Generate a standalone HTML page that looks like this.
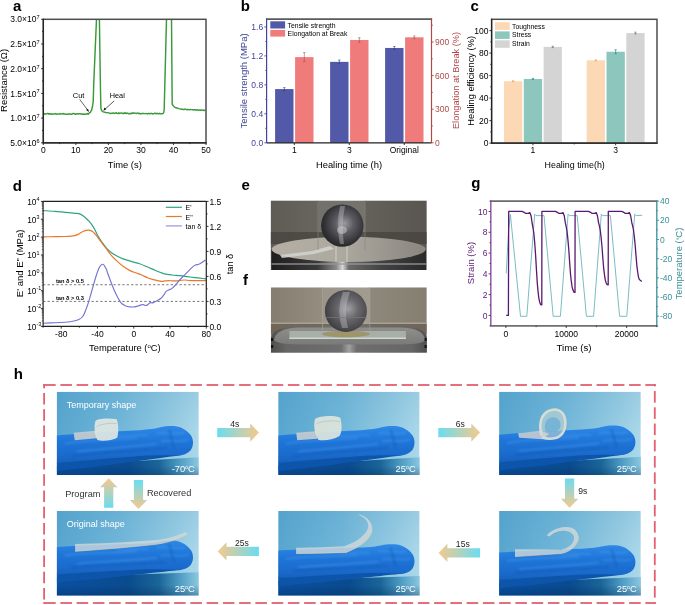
<!DOCTYPE html><html><head><meta charset="utf-8"><style>html,body{margin:0;padding:0;background:#fff;overflow:hidden;}svg{display:block;will-change:transform;}</style></head><body>
<svg width="685" height="605" viewBox="0 0 685 605" font-family="Liberation Sans">
<rect width="685" height="605" fill="#fff"/>
<defs><clipPath id="clipa"><rect x="43.3" y="19.3" width="162.5" height="123.5"/></clipPath><clipPath id="cpe"><rect x="270.6" y="200.4" width="156.2" height="69.6"/></clipPath><linearGradient id="ebg" x1="0" y1="0" x2="1" y2="0"><stop offset="0" stop-color="#5f5c56"/><stop offset="0.3" stop-color="#68655e"/><stop offset="0.31" stop-color="#73716b"/><stop offset="0.6" stop-color="#75736d"/><stop offset="0.61" stop-color="#64615b"/><stop offset="1" stop-color="#595651"/></linearGradient><linearGradient id="eside" x1="0" y1="0" x2="1" y2="0"><stop offset="0" stop-color="#1e1e1e"/><stop offset="0.3" stop-color="#3a3a3a"/><stop offset="0.42" stop-color="#8a8a8a"/><stop offset="0.46" stop-color="#d8d8d8"/><stop offset="0.5" stop-color="#6a6a6a"/><stop offset="0.7" stop-color="#444"/><stop offset="1" stop-color="#2a2a2a"/></linearGradient><linearGradient id="etop" x1="0" y1="0" x2="1" y2="0"><stop offset="0" stop-color="#b4aea4"/><stop offset="0.45" stop-color="#aea99f"/><stop offset="0.75" stop-color="#9a968e"/><stop offset="1" stop-color="#8a8680"/></linearGradient><radialGradient id="ball" cx="0.55" cy="0.45" r="0.62"><stop offset="0" stop-color="#9a9aa0"/><stop offset="0.35" stop-color="#5c5c62"/><stop offset="0.75" stop-color="#333337"/><stop offset="1" stop-color="#202022"/></radialGradient><clipPath id="cpf"><rect x="270.8" y="287.3" width="156.0" height="65.4"/></clipPath><linearGradient id="fbg" x1="0" y1="0" x2="1" y2="0"><stop offset="0" stop-color="#857e70"/><stop offset="0.33" stop-color="#958e80"/><stop offset="0.34" stop-color="#9c968a"/><stop offset="0.63" stop-color="#a29c90"/><stop offset="0.64" stop-color="#8e887b"/><stop offset="1" stop-color="#857f72"/></linearGradient><linearGradient id="ftop" x1="0" y1="0" x2="0" y2="1"><stop offset="0" stop-color="#8e8e8b"/><stop offset="1" stop-color="#7a7a78"/></linearGradient><linearGradient id="fside" x1="0" y1="0" x2="1" y2="0"><stop offset="0" stop-color="#4e4e4e"/><stop offset="0.1" stop-color="#666"/><stop offset="0.45" stop-color="#6e6e6e"/><stop offset="0.5" stop-color="#a0a0a0"/><stop offset="0.55" stop-color="#6e6e6e"/><stop offset="0.9" stop-color="#666"/><stop offset="1" stop-color="#4e4e4e"/></linearGradient><radialGradient id="ballf" cx="0.55" cy="0.45" r="0.62"><stop offset="0" stop-color="#a0a0a4"/><stop offset="0.4" stop-color="#68686c"/><stop offset="0.8" stop-color="#48484c"/><stop offset="1" stop-color="#333336"/></radialGradient><linearGradient id="garr_r" x1="0" y1="0" x2="1" y2="0"><stop offset="0" stop-color="#6adcf0"/><stop offset="1" stop-color="#f6c98c"/></linearGradient><linearGradient id="garr_l" x1="1" y1="0" x2="0" y2="0"><stop offset="0" stop-color="#6adcf0"/><stop offset="1" stop-color="#f6c98c"/></linearGradient><linearGradient id="garr_d" x1="0" y1="0" x2="0" y2="1"><stop offset="0" stop-color="#6adcf0"/><stop offset="1" stop-color="#f6c98c"/></linearGradient><linearGradient id="garr_u" x1="0" y1="1" x2="0" y2="0"><stop offset="0" stop-color="#6adcf0"/><stop offset="1" stop-color="#f6c98c"/></linearGradient><filter id="blur1" x="-10%" y="-50%" width="120%" height="200%"><feGaussianBlur stdDeviation="0.9"/></filter><linearGradient id="hbg" x1="0" y1="0" x2="1" y2="0"><stop offset="0" stop-color="#58a6cf"/><stop offset="0.45" stop-color="#72b7d9"/><stop offset="0.8" stop-color="#95cbe2"/><stop offset="1" stop-color="#abd8ea"/></linearGradient><linearGradient id="hbgv" x1="0" y1="0" x2="0" y2="1"><stop offset="0" stop-color="#3f8ebc" stop-opacity="0.15"/><stop offset="0.5" stop-color="#3f8ebc" stop-opacity="0"/><stop offset="1" stop-color="#3f8ebc" stop-opacity="0"/></linearGradient><linearGradient id="hlow" x1="0" y1="0" x2="1" y2="0"><stop offset="0" stop-color="#0a50a0"/><stop offset="0.5" stop-color="#0a4b8e"/><stop offset="0.72" stop-color="#1a6598"/><stop offset="0.86" stop-color="#4c9ac2"/><stop offset="1" stop-color="#8cc8e0"/></linearGradient><linearGradient id="hlowv" x1="0" y1="0" x2="0" y2="1"><stop offset="0" stop-color="#02285a" stop-opacity="0"/><stop offset="0.6" stop-color="#02285a" stop-opacity="0"/><stop offset="1" stop-color="#02285a" stop-opacity="0.4"/></linearGradient><linearGradient id="hfing" x1="0" y1="0" x2="0" y2="1"><stop offset="0" stop-color="#2f88e6"/><stop offset="0.4" stop-color="#1f76d8"/><stop offset="0.8" stop-color="#1a6acc"/><stop offset="1" stop-color="#1660bc"/></linearGradient><clipPath id="cph1"><rect x="56.70" y="391.70" width="142.10" height="83.20"/></clipPath><clipPath id="cph2"><rect x="278.20" y="391.70" width="141.40" height="83.20"/></clipPath><clipPath id="cph3"><rect x="499.10" y="391.70" width="141.70" height="83.20"/></clipPath><clipPath id="cph4"><rect x="56.70" y="511.00" width="142.10" height="84.40"/></clipPath><clipPath id="cph5"><rect x="278.20" y="511.00" width="141.40" height="84.40"/></clipPath><clipPath id="cph6"><rect x="499.10" y="511.00" width="141.70" height="84.40"/></clipPath></defs>
<text x="13.00" y="11.00" font-size="15" text-anchor="start" fill="#000" font-weight="bold">a</text>
<g clip-path="url(#clipa)">
<path d="M43.30 113.66 L44.10 113.94 L44.90 113.78 L45.70 113.99 L46.50 114.01 L47.30 113.51 L48.10 113.46 L48.90 114.20 L49.70 113.68 L50.50 113.66 L51.30 114.35 L52.10 113.87 L52.90 114.20 L53.70 113.88 L54.50 114.03 L55.30 113.59 L56.10 114.02 L56.90 114.23 L57.70 113.92 L58.50 114.12 L59.30 114.05 L60.10 113.51 L60.90 114.13 L61.70 113.98 L62.50 113.72 L63.30 113.48 L64.10 114.23 L64.90 113.88 L65.70 114.10 L66.50 114.24 L67.30 114.09 L68.10 114.28 L68.90 113.81 L69.70 114.17 L70.50 113.85 L71.30 114.29 L72.10 114.24 L72.90 113.54 L73.70 113.57 L74.50 113.65 L75.30 114.32 L76.10 113.84 L76.90 114.01 L77.70 113.72 L78.50 113.91 L79.30 113.80 L80.10 113.77 L80.90 113.98 L81.70 113.98 L82.50 114.26 L83.30 114.06 L84.10 114.29 L84.90 114.22 L85.70 114.34 L86.50 114.05 L87.30 113.60 L88.10 114.22 L89.00 113.20 L90.30 112.30 L91.50 110.20 L92.50 106.50 L93.20 101.80 L93.70 85.00 L96.50 19.00 L99.40 19.00 L100.40 85.00 L100.70 100.00 L100.90 108.50 L101.80 110.80 L103.20 111.90 L106.00 112.50 L109.10 112.90 L110.00 113.52 L110.80 113.47 L111.60 113.18 L112.40 113.32 L113.20 112.88 L114.00 113.45 L114.80 113.22 L115.60 112.97 L116.40 112.78 L117.20 113.50 L118.00 113.64 L118.80 112.84 L119.60 113.49 L120.40 113.14 L121.20 112.92 L122.00 113.06 L122.80 113.50 L123.60 113.60 L124.40 112.86 L125.20 113.39 L126.00 112.88 L126.80 113.50 L127.60 113.16 L128.40 113.66 L129.20 113.76 L130.00 113.34 L130.80 113.80 L131.60 113.19 L132.40 112.99 L133.20 113.47 L134.00 112.97 L134.80 113.13 L135.60 113.32 L136.40 113.52 L137.20 113.12 L138.00 113.02 L138.80 113.78 L139.60 113.29 L140.40 113.88 L141.20 113.83 L142.00 113.37 L142.80 113.46 L143.60 113.52 L144.40 113.64 L145.20 113.61 L146.00 113.59 L146.80 113.65 L147.60 113.95 L148.40 113.57 L149.20 113.51 L150.00 113.78 L150.80 113.35 L151.60 113.42 L152.40 114.04 L153.20 113.64 L154.00 113.67 L154.80 113.20 L155.60 113.57 L156.40 113.73 L157.20 113.23 L158.00 113.78 L158.80 113.80 L159.60 113.30 L160.40 113.82 L161.20 113.68 L162.00 113.89 L163.20 113.40 L163.90 112.00 L164.20 109.50 L166.50 19.00 L171.50 19.00 L172.20 104.30 L173.10 105.50 L174.30 106.90 L176.00 107.80 L179.00 108.60 L181.60 109.20 L182.50 109.18 L183.30 109.51 L184.10 109.57 L184.90 109.04 L185.70 109.11 L186.50 109.64 L187.30 109.91 L188.10 109.38 L188.90 109.59 L189.70 109.73 L190.50 109.56 L191.30 109.63 L192.10 109.63 L192.90 109.72 L193.70 109.94 L194.50 109.74 L195.30 109.84 L196.10 110.20 L196.90 109.64 L197.70 110.12 L198.50 110.29 L199.30 109.99 L200.10 109.96 L200.90 110.46 L201.70 110.05 L202.50 110.05 L203.30 110.29 L204.10 110.54 L204.90 110.10 L205.60 110.50" fill="none" stroke="#3a9a3a" stroke-width="1.45" stroke-linejoin="round"/>
</g>
<line x1="79.70" y1="99.30" x2="88.20" y2="110.80" stroke="#111" stroke-width="0.65"/>
<path d="M89.0 111.9 L86.2 110.1 L88.0 108.8 Z" fill="#111"/>
<line x1="114.20" y1="100.90" x2="104.30" y2="109.80" stroke="#111" stroke-width="0.7"/>
<path d="M103.3 110.7 L104.6 107.6 L106.2 109.3 Z" fill="#111"/>
<text x="78.60" y="97.90" font-size="7.5" text-anchor="middle" fill="#000">Cut</text>
<text x="117.30" y="98.40" font-size="7.3" text-anchor="middle" fill="#000">Heal</text>
<rect x="43.3" y="19.3" width="162.7" height="123.50000000000001" fill="none" stroke="#4e4e4e" stroke-width="1.5"/>
<line x1="43.30" y1="18.80" x2="43.30" y2="143.30" stroke="#222" stroke-width="1.2"/>
<line x1="42.80" y1="142.80" x2="206.50" y2="142.80" stroke="#222" stroke-width="1.2"/>
<line x1="43.30" y1="142.80" x2="43.30" y2="145.00" stroke="#222" stroke-width="0.9"/>
<text x="43.30" y="153.30" font-size="8.5" text-anchor="middle" fill="#000">0</text>
<line x1="59.57" y1="142.80" x2="59.57" y2="144.10" stroke="#222" stroke-width="0.9"/>
<line x1="75.84" y1="142.80" x2="75.84" y2="145.00" stroke="#222" stroke-width="0.9"/>
<text x="75.84" y="153.30" font-size="8.5" text-anchor="middle" fill="#000">10</text>
<line x1="92.11" y1="142.80" x2="92.11" y2="144.10" stroke="#222" stroke-width="0.9"/>
<line x1="108.38" y1="142.80" x2="108.38" y2="145.00" stroke="#222" stroke-width="0.9"/>
<text x="108.38" y="153.30" font-size="8.5" text-anchor="middle" fill="#000">20</text>
<line x1="124.65" y1="142.80" x2="124.65" y2="144.10" stroke="#222" stroke-width="0.9"/>
<line x1="140.92" y1="142.80" x2="140.92" y2="145.00" stroke="#222" stroke-width="0.9"/>
<text x="140.92" y="153.30" font-size="8.5" text-anchor="middle" fill="#000">30</text>
<line x1="157.19" y1="142.80" x2="157.19" y2="144.10" stroke="#222" stroke-width="0.9"/>
<line x1="173.46" y1="142.80" x2="173.46" y2="145.00" stroke="#222" stroke-width="0.9"/>
<text x="173.46" y="153.30" font-size="8.5" text-anchor="middle" fill="#000">40</text>
<line x1="189.73" y1="142.80" x2="189.73" y2="144.10" stroke="#222" stroke-width="0.9"/>
<line x1="206.00" y1="142.80" x2="206.00" y2="145.00" stroke="#222" stroke-width="0.9"/>
<text x="206.00" y="153.30" font-size="8.5" text-anchor="middle" fill="#000">50</text>
<line x1="43.30" y1="142.80" x2="41.10" y2="142.80" stroke="#222" stroke-width="0.9"/>
<text x="39.6" y="145.90" font-size="8.5" text-anchor="end">5.0×10<tspan font-size="5.6" dy="-3.2">6</tspan></text>
<line x1="43.30" y1="130.45" x2="42.00" y2="130.45" stroke="#222" stroke-width="0.9"/>
<line x1="43.30" y1="118.10" x2="41.10" y2="118.10" stroke="#222" stroke-width="0.9"/>
<text x="39.6" y="121.20" font-size="8.5" text-anchor="end">1.0×10<tspan font-size="5.6" dy="-3.2">7</tspan></text>
<line x1="43.30" y1="105.75" x2="42.00" y2="105.75" stroke="#222" stroke-width="0.9"/>
<line x1="43.30" y1="93.40" x2="41.10" y2="93.40" stroke="#222" stroke-width="0.9"/>
<text x="39.6" y="96.50" font-size="8.5" text-anchor="end">1.5×10<tspan font-size="5.6" dy="-3.2">7</tspan></text>
<line x1="43.30" y1="81.05" x2="42.00" y2="81.05" stroke="#222" stroke-width="0.9"/>
<line x1="43.30" y1="68.70" x2="41.10" y2="68.70" stroke="#222" stroke-width="0.9"/>
<text x="39.6" y="71.80" font-size="8.5" text-anchor="end">2.0×10<tspan font-size="5.6" dy="-3.2">7</tspan></text>
<line x1="43.30" y1="56.35" x2="42.00" y2="56.35" stroke="#222" stroke-width="0.9"/>
<line x1="43.30" y1="44.00" x2="41.10" y2="44.00" stroke="#222" stroke-width="0.9"/>
<text x="39.6" y="47.10" font-size="8.5" text-anchor="end">2.5×10<tspan font-size="5.6" dy="-3.2">7</tspan></text>
<line x1="43.30" y1="31.65" x2="42.00" y2="31.65" stroke="#222" stroke-width="0.9"/>
<line x1="43.30" y1="19.30" x2="41.10" y2="19.30" stroke="#222" stroke-width="0.9"/>
<text x="39.6" y="22.40" font-size="8.5" text-anchor="end">3.0×10<tspan font-size="5.6" dy="-3.2">7</tspan></text>
<text x="7.10" y="80.40" font-size="9.5" text-anchor="middle" fill="#000" transform="rotate(-90 7.1 80.4)">Resistance (Ω)</text>
<text x="124.80" y="167.70" font-size="9.4" text-anchor="middle" fill="#000">Time (s)</text>
<text x="240.80" y="11.00" font-size="15" text-anchor="start" fill="#000" font-weight="bold">b</text>
<rect x="275.10" y="89.08" width="18.40" height="53.72" fill="#5259a8"/>
<rect x="295.10" y="57.12" width="18.40" height="85.68" fill="#f07b7b"/>
<line x1="284.30" y1="87.63" x2="284.30" y2="90.53" stroke="#333a80" stroke-width="0.6"/>
<line x1="283.10" y1="87.63" x2="285.50" y2="87.63" stroke="#333a80" stroke-width="0.6"/>
<line x1="283.10" y1="90.53" x2="285.50" y2="90.53" stroke="#333a80" stroke-width="0.6"/>
<line x1="304.30" y1="52.64" x2="304.30" y2="61.60" stroke="#a05050" stroke-width="0.6"/>
<line x1="303.10" y1="52.64" x2="305.50" y2="52.64" stroke="#a05050" stroke-width="0.6"/>
<line x1="303.10" y1="61.60" x2="305.50" y2="61.60" stroke="#a05050" stroke-width="0.6"/>
<rect x="330.10" y="61.86" width="18.40" height="80.94" fill="#5259a8"/>
<rect x="350.10" y="39.98" width="18.40" height="102.82" fill="#f07b7b"/>
<line x1="339.30" y1="60.05" x2="339.30" y2="63.67" stroke="#333a80" stroke-width="0.6"/>
<line x1="338.10" y1="60.05" x2="340.50" y2="60.05" stroke="#333a80" stroke-width="0.6"/>
<line x1="338.10" y1="63.67" x2="340.50" y2="63.67" stroke="#333a80" stroke-width="0.6"/>
<line x1="359.30" y1="37.74" x2="359.30" y2="42.22" stroke="#a05050" stroke-width="0.6"/>
<line x1="358.10" y1="37.74" x2="360.50" y2="37.74" stroke="#a05050" stroke-width="0.6"/>
<line x1="358.10" y1="42.22" x2="360.50" y2="42.22" stroke="#a05050" stroke-width="0.6"/>
<rect x="385.10" y="47.96" width="18.40" height="94.84" fill="#5259a8"/>
<rect x="405.10" y="37.30" width="18.40" height="105.50" fill="#f07b7b"/>
<line x1="394.30" y1="46.51" x2="394.30" y2="49.40" stroke="#333a80" stroke-width="0.6"/>
<line x1="393.10" y1="46.51" x2="395.50" y2="46.51" stroke="#333a80" stroke-width="0.6"/>
<line x1="393.10" y1="49.40" x2="395.50" y2="49.40" stroke="#333a80" stroke-width="0.6"/>
<line x1="414.30" y1="35.95" x2="414.30" y2="38.64" stroke="#a05050" stroke-width="0.6"/>
<line x1="413.10" y1="35.95" x2="415.50" y2="35.95" stroke="#a05050" stroke-width="0.6"/>
<line x1="413.10" y1="38.64" x2="415.50" y2="38.64" stroke="#a05050" stroke-width="0.6"/>
<rect x="270.30" y="21.30" width="14.80" height="7.20" fill="#5259a8"/>
<rect x="270.30" y="29.90" width="14.80" height="6.70" fill="#f07b7b"/>
<text x="287.60" y="27.60" font-size="6.85" text-anchor="start" fill="#000">Tensile strength</text>
<text x="287.60" y="35.90" font-size="6.85" text-anchor="start" fill="#000">Elongation at Break</text>
<line x1="266.00" y1="19.10" x2="432.10" y2="19.10" stroke="#5a5a5a" stroke-width="1.6"/>
<line x1="266.60" y1="18.60" x2="266.60" y2="142.80" stroke="#41459a" stroke-width="1.2"/>
<line x1="431.50" y1="18.60" x2="431.50" y2="142.80" stroke="#b04848" stroke-width="1.2"/>
<line x1="266.60" y1="142.80" x2="431.50" y2="142.80" stroke="#222" stroke-width="1.2"/>
<line x1="266.60" y1="142.80" x2="264.40" y2="142.80" stroke="#41459a" stroke-width="0.9"/>
<text x="263.20" y="145.90" font-size="8.5" text-anchor="end" fill="#41459a">0.0</text>
<line x1="266.60" y1="128.32" x2="265.30" y2="128.32" stroke="#41459a" stroke-width="0.9"/>
<line x1="266.60" y1="113.84" x2="264.40" y2="113.84" stroke="#41459a" stroke-width="0.9"/>
<text x="263.20" y="116.94" font-size="8.5" text-anchor="end" fill="#41459a">0.4</text>
<line x1="266.60" y1="99.36" x2="265.30" y2="99.36" stroke="#41459a" stroke-width="0.9"/>
<line x1="266.60" y1="84.88" x2="264.40" y2="84.88" stroke="#41459a" stroke-width="0.9"/>
<text x="263.20" y="87.98" font-size="8.5" text-anchor="end" fill="#41459a">0.8</text>
<line x1="266.60" y1="70.40" x2="265.30" y2="70.40" stroke="#41459a" stroke-width="0.9"/>
<line x1="266.60" y1="55.92" x2="264.40" y2="55.92" stroke="#41459a" stroke-width="0.9"/>
<text x="263.20" y="59.02" font-size="8.5" text-anchor="end" fill="#41459a">1.2</text>
<line x1="266.60" y1="41.44" x2="265.30" y2="41.44" stroke="#41459a" stroke-width="0.9"/>
<line x1="266.60" y1="26.96" x2="264.40" y2="26.96" stroke="#41459a" stroke-width="0.9"/>
<text x="263.20" y="30.06" font-size="8.5" text-anchor="end" fill="#41459a">1.6</text>
<line x1="431.50" y1="142.80" x2="433.70" y2="142.80" stroke="#b04848" stroke-width="0.9"/>
<text x="435.00" y="145.90" font-size="8.5" text-anchor="start" fill="#b04848">0</text>
<line x1="431.50" y1="126.00" x2="432.80" y2="126.00" stroke="#b04848" stroke-width="0.9"/>
<line x1="431.50" y1="109.20" x2="433.70" y2="109.20" stroke="#b04848" stroke-width="0.9"/>
<text x="435.00" y="112.30" font-size="8.5" text-anchor="start" fill="#b04848">300</text>
<line x1="431.50" y1="92.40" x2="432.80" y2="92.40" stroke="#b04848" stroke-width="0.9"/>
<line x1="431.50" y1="75.60" x2="433.70" y2="75.60" stroke="#b04848" stroke-width="0.9"/>
<text x="435.00" y="78.70" font-size="8.5" text-anchor="start" fill="#b04848">600</text>
<line x1="431.50" y1="58.80" x2="432.80" y2="58.80" stroke="#b04848" stroke-width="0.9"/>
<line x1="431.50" y1="42.00" x2="433.70" y2="42.00" stroke="#b04848" stroke-width="0.9"/>
<text x="435.00" y="45.10" font-size="8.5" text-anchor="start" fill="#b04848">900</text>
<line x1="431.50" y1="25.20" x2="432.80" y2="25.20" stroke="#b04848" stroke-width="0.9"/>
<line x1="294.30" y1="142.80" x2="294.30" y2="145.00" stroke="#222" stroke-width="0.9"/>
<text x="294.30" y="153.30" font-size="8.5" text-anchor="middle" fill="#000">1</text>
<line x1="349.30" y1="142.80" x2="349.30" y2="145.00" stroke="#222" stroke-width="0.9"/>
<text x="349.30" y="153.30" font-size="8.5" text-anchor="middle" fill="#000">3</text>
<line x1="404.30" y1="142.80" x2="404.30" y2="145.00" stroke="#222" stroke-width="0.9"/>
<text x="404.30" y="153.30" font-size="8.5" text-anchor="middle" fill="#000">Original</text>
<text x="246.60" y="80.90" font-size="9.5" text-anchor="middle" fill="#41459a" transform="rotate(-90 246.6 80.9)">Tensile strength (MPa)</text>
<text x="458.60" y="80.50" font-size="9.2" text-anchor="middle" fill="#b04848" transform="rotate(-90 458.6 80.5)">Elongation at Break (%)</text>
<text x="349.00" y="167.70" font-size="9.4" text-anchor="middle" fill="#000">Healing time (h)</text>
<text x="470.60" y="11.00" font-size="15" text-anchor="start" fill="#000" font-weight="bold">c</text>
<rect x="504.00" y="81.22" width="18.30" height="61.88" fill="#fdd8b5"/>
<line x1="513.15" y1="80.77" x2="513.15" y2="81.67" stroke="#f0a060" stroke-width="0.7"/>
<line x1="512.05" y1="80.77" x2="514.25" y2="80.77" stroke="#f0a060" stroke-width="0.7"/>
<line x1="512.05" y1="81.67" x2="514.25" y2="81.67" stroke="#f0a060" stroke-width="0.7"/>
<rect x="523.80" y="78.97" width="18.30" height="64.12" fill="#8cc6bc"/>
<line x1="532.95" y1="78.41" x2="532.95" y2="79.54" stroke="#1f8f8f" stroke-width="0.7"/>
<line x1="531.85" y1="78.41" x2="534.05" y2="78.41" stroke="#1f8f8f" stroke-width="0.7"/>
<line x1="531.85" y1="79.54" x2="534.05" y2="79.54" stroke="#1f8f8f" stroke-width="0.7"/>
<rect x="543.60" y="46.91" width="18.30" height="96.19" fill="#d3d4d3"/>
<line x1="552.75" y1="46.24" x2="552.75" y2="47.59" stroke="#777" stroke-width="0.7"/>
<line x1="551.65" y1="46.24" x2="553.85" y2="46.24" stroke="#777" stroke-width="0.7"/>
<line x1="551.65" y1="47.59" x2="553.85" y2="47.59" stroke="#777" stroke-width="0.7"/>
<rect x="586.70" y="60.30" width="18.30" height="82.80" fill="#fdd8b5"/>
<line x1="595.85" y1="59.85" x2="595.85" y2="60.75" stroke="#f0a060" stroke-width="0.7"/>
<line x1="594.75" y1="59.85" x2="596.95" y2="59.85" stroke="#f0a060" stroke-width="0.7"/>
<line x1="594.75" y1="60.75" x2="596.95" y2="60.75" stroke="#f0a060" stroke-width="0.7"/>
<rect x="606.50" y="51.75" width="18.30" height="91.35" fill="#8cc6bc"/>
<line x1="615.65" y1="49.72" x2="615.65" y2="53.77" stroke="#1f8f8f" stroke-width="0.7"/>
<line x1="614.55" y1="49.72" x2="616.75" y2="49.72" stroke="#1f8f8f" stroke-width="0.7"/>
<line x1="614.55" y1="53.77" x2="616.75" y2="53.77" stroke="#1f8f8f" stroke-width="0.7"/>
<rect x="626.30" y="33.07" width="18.30" height="110.03" fill="#d3d4d3"/>
<line x1="635.45" y1="32.17" x2="635.45" y2="33.97" stroke="#777" stroke-width="0.7"/>
<line x1="634.35" y1="32.17" x2="636.55" y2="32.17" stroke="#777" stroke-width="0.7"/>
<line x1="634.35" y1="33.97" x2="636.55" y2="33.97" stroke="#777" stroke-width="0.7"/>
<rect x="495.00" y="22.20" width="14.70" height="7.70" fill="#fdd8b5"/>
<rect x="495.00" y="31.40" width="14.70" height="7.50" fill="#8cc6bc"/>
<rect x="495.00" y="40.30" width="14.70" height="7.50" fill="#d3d4d3"/>
<text x="512.00" y="28.50" font-size="6.8" text-anchor="start" fill="#000">Toughness</text>
<text x="512.00" y="37.40" font-size="6.8" text-anchor="start" fill="#000">Stress</text>
<text x="512.00" y="46.30" font-size="6.8" text-anchor="start" fill="#000">Strain</text>
<rect x="491.6" y="19.3" width="165.39999999999998" height="123.8" fill="none" stroke="#4e4e4e" stroke-width="1.5"/>
<line x1="491.60" y1="18.80" x2="491.60" y2="143.60" stroke="#222" stroke-width="1.2"/>
<line x1="491.10" y1="143.10" x2="657.50" y2="143.10" stroke="#222" stroke-width="1.2"/>
<line x1="491.60" y1="143.10" x2="489.40" y2="143.10" stroke="#222" stroke-width="0.9"/>
<text x="488.40" y="146.20" font-size="8.5" text-anchor="end" fill="#000">0</text>
<line x1="491.60" y1="131.85" x2="490.30" y2="131.85" stroke="#222" stroke-width="0.9"/>
<line x1="491.60" y1="120.60" x2="489.40" y2="120.60" stroke="#222" stroke-width="0.9"/>
<text x="488.40" y="123.70" font-size="8.5" text-anchor="end" fill="#000">20</text>
<line x1="491.60" y1="109.35" x2="490.30" y2="109.35" stroke="#222" stroke-width="0.9"/>
<line x1="491.60" y1="98.10" x2="489.40" y2="98.10" stroke="#222" stroke-width="0.9"/>
<text x="488.40" y="101.20" font-size="8.5" text-anchor="end" fill="#000">40</text>
<line x1="491.60" y1="86.85" x2="490.30" y2="86.85" stroke="#222" stroke-width="0.9"/>
<line x1="491.60" y1="75.60" x2="489.40" y2="75.60" stroke="#222" stroke-width="0.9"/>
<text x="488.40" y="78.70" font-size="8.5" text-anchor="end" fill="#000">60</text>
<line x1="491.60" y1="64.35" x2="490.30" y2="64.35" stroke="#222" stroke-width="0.9"/>
<line x1="491.60" y1="53.10" x2="489.40" y2="53.10" stroke="#222" stroke-width="0.9"/>
<text x="488.40" y="56.20" font-size="8.5" text-anchor="end" fill="#000">80</text>
<line x1="491.60" y1="41.85" x2="490.30" y2="41.85" stroke="#222" stroke-width="0.9"/>
<line x1="491.60" y1="30.60" x2="489.40" y2="30.60" stroke="#222" stroke-width="0.9"/>
<text x="488.40" y="33.70" font-size="8.5" text-anchor="end" fill="#000">100</text>
<line x1="532.95" y1="143.10" x2="532.95" y2="145.30" stroke="#222" stroke-width="0.9"/>
<text x="532.95" y="153.30" font-size="8.5" text-anchor="middle" fill="#000">1</text>
<line x1="574.30" y1="143.10" x2="574.30" y2="144.40" stroke="#222" stroke-width="0.9"/>
<line x1="615.65" y1="143.10" x2="615.65" y2="145.30" stroke="#222" stroke-width="0.9"/>
<text x="615.65" y="153.30" font-size="8.5" text-anchor="middle" fill="#000">3</text>
<text x="473.80" y="80.80" font-size="9.3" text-anchor="middle" fill="#000" transform="rotate(-90 473.8 80.8)">Healing efficiency (%)</text>
<text x="574.70" y="167.70" font-size="8.9" text-anchor="middle" fill="#000">Healing time(h)</text>
<text x="12.80" y="190.60" font-size="15" text-anchor="start" fill="#000" font-weight="bold">d</text>
<line x1="43.10" y1="284.73" x2="206.30" y2="284.73" stroke="#555" stroke-width="0.8" stroke-dasharray="2.3 2.1"/>
<line x1="43.10" y1="301.40" x2="206.30" y2="301.40" stroke="#555" stroke-width="0.8" stroke-dasharray="2.3 2.1"/>
<text x="55.90" y="283.30" font-size="5.7" text-anchor="start" fill="#000" font-weight="bold">tan δ &gt; 0.5</text>
<text x="55.90" y="300.30" font-size="5.7" text-anchor="start" fill="#000" font-weight="bold">tan δ &gt; 0.3</text>
<path d="M43.30 210.60 C45.25 210.72 51.38 211.02 55.00 211.30 C58.62 211.58 61.58 211.97 65.00 212.30 C68.42 212.63 73.10 213.05 75.50 213.30 C77.90 213.55 78.27 213.47 79.40 213.80 C80.53 214.13 81.20 214.57 82.30 215.30 C83.40 216.03 84.88 217.22 86.00 218.20 C87.12 219.18 87.92 219.97 89.00 221.20 C90.08 222.43 91.42 223.97 92.50 225.60 C93.58 227.23 94.53 229.17 95.50 231.00 C96.47 232.83 97.15 234.63 98.30 236.60 C99.45 238.57 101.03 240.88 102.40 242.80 C103.77 244.72 104.98 246.45 106.50 248.10 C108.02 249.75 109.70 251.35 111.50 252.70 C113.30 254.05 115.37 255.17 117.30 256.20 C119.23 257.23 120.77 258.03 123.10 258.90 C125.43 259.77 128.55 260.58 131.30 261.40 C134.05 262.22 136.98 262.90 139.60 263.80 C142.22 264.70 144.75 265.87 147.00 266.80 C149.25 267.73 151.27 268.62 153.10 269.40 C154.93 270.18 156.10 270.77 158.00 271.50 C159.90 272.23 162.17 273.22 164.50 273.80 C166.83 274.38 169.47 274.68 172.00 275.00 C174.53 275.32 177.20 275.43 179.70 275.70 C182.20 275.97 184.47 276.28 187.00 276.60 C189.53 276.92 192.73 277.33 194.90 277.60 C197.07 277.87 198.15 277.98 200.00 278.20 C201.85 278.42 205.00 278.78 206.00 278.90" fill="none" stroke="#2aa57e" stroke-width="1.2" stroke-linejoin="round"/>
<path d="M43.30 236.80 C45.25 236.78 51.38 236.75 55.00 236.70 C58.62 236.65 62.25 236.60 65.00 236.50 C67.75 236.40 69.92 236.25 71.50 236.10 C73.08 235.95 73.40 235.88 74.50 235.60 C75.60 235.32 77.02 234.90 78.10 234.40 C79.18 233.90 80.12 233.12 81.00 232.60 C81.88 232.08 82.57 231.67 83.40 231.30 C84.23 230.93 85.23 230.60 86.00 230.40 C86.77 230.20 87.33 230.10 88.00 230.10 C88.67 230.10 89.23 230.15 90.00 230.40 C90.77 230.65 91.92 231.17 92.60 231.60 C93.28 232.03 93.45 232.33 94.10 233.00 C94.75 233.67 95.80 234.73 96.50 235.60 C97.20 236.47 97.32 236.87 98.30 238.20 C99.28 239.53 101.03 241.80 102.40 243.60 C103.77 245.40 104.98 247.00 106.50 249.00 C108.02 251.00 109.70 253.53 111.50 255.60 C113.30 257.67 115.37 259.62 117.30 261.40 C119.23 263.18 120.98 264.77 123.10 266.30 C125.22 267.83 127.93 269.52 130.00 270.60 C132.07 271.68 133.55 272.07 135.50 272.80 C137.45 273.53 139.70 274.17 141.70 275.00 C143.70 275.83 145.55 277.03 147.50 277.80 C149.45 278.57 151.73 279.13 153.40 279.60 C155.07 280.07 156.15 280.32 157.50 280.60 C158.85 280.88 160.25 281.25 161.50 281.30 C162.75 281.35 163.82 281.02 165.00 280.90 C166.18 280.78 167.35 280.60 168.60 280.60 C169.85 280.60 171.15 280.85 172.50 280.90 C173.85 280.95 175.37 280.98 176.70 280.90 C178.03 280.82 179.13 280.55 180.50 280.40 C181.87 280.25 183.48 279.98 184.90 280.00 C186.32 280.02 187.63 280.38 189.00 280.50 C190.37 280.62 191.43 280.68 193.10 280.70 C194.77 280.72 196.85 280.62 199.00 280.60 C201.15 280.58 204.83 280.60 206.00 280.60" fill="none" stroke="#e8782c" stroke-width="1.2" stroke-linejoin="round"/>
<path d="M43.30 323.30 C45.25 323.20 51.38 322.87 55.00 322.70 C58.62 322.53 62.45 322.45 65.00 322.30 C67.55 322.15 68.63 322.05 70.30 321.80 C71.97 321.55 73.50 321.22 75.00 320.80 C76.50 320.38 78.08 319.93 79.30 319.30 C80.52 318.67 81.43 318.02 82.30 317.00 C83.17 315.98 83.77 314.78 84.50 313.20 C85.23 311.62 85.98 309.48 86.70 307.50 C87.42 305.52 88.05 303.72 88.80 301.30 C89.55 298.88 90.40 295.80 91.20 293.00 C92.00 290.20 92.77 287.37 93.60 284.50 C94.43 281.63 95.33 278.45 96.20 275.80 C97.07 273.15 98.03 270.35 98.80 268.60 C99.57 266.85 100.13 266.02 100.80 265.30 C101.47 264.58 102.18 264.22 102.80 264.30 C103.42 264.38 103.88 264.92 104.50 265.80 C105.12 266.68 105.98 268.40 106.50 269.60 C107.02 270.80 107.02 271.35 107.60 273.00 C108.18 274.65 109.22 277.42 110.00 279.50 C110.78 281.58 111.52 283.55 112.30 285.50 C113.08 287.45 113.92 289.45 114.70 291.20 C115.48 292.95 115.97 294.10 117.00 296.00 C118.03 297.90 119.73 301.10 120.90 302.60 C122.07 304.10 123.05 304.40 124.00 305.00 C124.95 305.60 125.60 305.88 126.60 306.20 C127.60 306.52 128.90 306.77 130.00 306.90 C131.10 307.03 132.20 307.05 133.20 307.00 C134.20 306.95 135.20 306.77 136.00 306.60 C136.80 306.43 137.25 306.25 138.00 306.00 C138.75 305.75 139.72 305.35 140.50 305.10 C141.28 304.85 142.02 304.48 142.70 304.50 C143.38 304.52 143.97 305.05 144.60 305.20 C145.23 305.35 145.85 305.60 146.50 305.40 C147.15 305.20 147.87 304.47 148.50 304.00 C149.13 303.53 149.68 302.78 150.30 302.60 C150.92 302.42 151.57 302.97 152.20 302.90 C152.83 302.83 153.38 302.52 154.10 302.20 C154.82 301.88 155.72 301.40 156.50 301.00 C157.28 300.60 158.10 300.22 158.80 299.80 C159.50 299.38 160.07 299.03 160.70 298.50 C161.33 297.97 161.97 297.38 162.60 296.60 C163.23 295.82 163.87 294.70 164.50 293.80 C165.13 292.90 165.68 291.87 166.40 291.20 C167.12 290.53 168.00 290.17 168.80 289.80 C169.60 289.43 170.50 289.37 171.20 289.00 C171.90 288.63 172.37 288.18 173.00 287.60 C173.63 287.02 174.28 286.30 175.00 285.50 C175.72 284.70 176.52 283.73 177.30 282.80 C178.08 281.87 178.83 280.87 179.70 279.90 C180.57 278.93 181.55 277.95 182.50 277.00 C183.45 276.05 184.28 275.32 185.40 274.20 C186.52 273.08 187.93 271.57 189.20 270.30 C190.47 269.03 191.95 267.48 193.00 266.60 C194.05 265.72 194.55 265.38 195.50 265.00 C196.45 264.62 197.70 264.67 198.70 264.30 C199.70 263.93 200.40 263.52 201.50 262.80 C202.60 262.08 204.67 260.47 205.30 260.00" fill="none" stroke="#7474d2" stroke-width="1.15" stroke-linejoin="round"/>
<line x1="165.80" y1="207.30" x2="181.90" y2="207.30" stroke="#2aa57e" stroke-width="1.2"/>
<line x1="165.80" y1="216.50" x2="181.90" y2="216.50" stroke="#e8782c" stroke-width="1.2"/>
<line x1="165.80" y1="225.90" x2="181.90" y2="225.90" stroke="#9d9ddf" stroke-width="1.3"/>
<text x="185.60" y="210.30" font-size="7.0" text-anchor="start" fill="#000">E'</text>
<text x="185.60" y="219.50" font-size="7.0" text-anchor="start" fill="#000">E"</text>
<text x="185.60" y="228.90" font-size="7.0" text-anchor="start" fill="#000">tan  δ</text>
<line x1="43.10" y1="201.40" x2="206.30" y2="201.40" stroke="#222" stroke-width="1.2"/>
<line x1="43.10" y1="200.90" x2="43.10" y2="326.90" stroke="#222" stroke-width="1.2"/>
<line x1="206.30" y1="200.90" x2="206.30" y2="326.90" stroke="#222" stroke-width="1.2"/>
<line x1="42.60" y1="326.40" x2="206.80" y2="326.40" stroke="#222" stroke-width="1.2"/>
<line x1="43.10" y1="326.40" x2="40.90" y2="326.40" stroke="#222" stroke-width="0.9"/>
<text x="36.4" y="329.90" font-size="8.3" text-anchor="end">10</text>
<text x="36.5" y="326.20" font-size="5.4">-3</text>
<line x1="43.10" y1="321.02" x2="41.80" y2="321.02" stroke="#222" stroke-width="0.6"/>
<line x1="43.10" y1="317.88" x2="41.80" y2="317.88" stroke="#222" stroke-width="0.6"/>
<line x1="43.10" y1="315.65" x2="41.80" y2="315.65" stroke="#222" stroke-width="0.6"/>
<line x1="43.10" y1="313.92" x2="41.80" y2="313.92" stroke="#222" stroke-width="0.6"/>
<line x1="43.10" y1="312.50" x2="41.80" y2="312.50" stroke="#222" stroke-width="0.6"/>
<line x1="43.10" y1="311.31" x2="41.80" y2="311.31" stroke="#222" stroke-width="0.6"/>
<line x1="43.10" y1="310.27" x2="41.80" y2="310.27" stroke="#222" stroke-width="0.6"/>
<line x1="43.10" y1="309.36" x2="41.80" y2="309.36" stroke="#222" stroke-width="0.6"/>
<line x1="43.10" y1="308.54" x2="40.90" y2="308.54" stroke="#222" stroke-width="0.9"/>
<text x="36.4" y="312.04" font-size="8.3" text-anchor="end">10</text>
<text x="36.5" y="308.34" font-size="5.4">-2</text>
<line x1="43.10" y1="303.17" x2="41.80" y2="303.17" stroke="#222" stroke-width="0.6"/>
<line x1="43.10" y1="300.02" x2="41.80" y2="300.02" stroke="#222" stroke-width="0.6"/>
<line x1="43.10" y1="297.79" x2="41.80" y2="297.79" stroke="#222" stroke-width="0.6"/>
<line x1="43.10" y1="296.06" x2="41.80" y2="296.06" stroke="#222" stroke-width="0.6"/>
<line x1="43.10" y1="294.65" x2="41.80" y2="294.65" stroke="#222" stroke-width="0.6"/>
<line x1="43.10" y1="293.45" x2="41.80" y2="293.45" stroke="#222" stroke-width="0.6"/>
<line x1="43.10" y1="292.42" x2="41.80" y2="292.42" stroke="#222" stroke-width="0.6"/>
<line x1="43.10" y1="291.50" x2="41.80" y2="291.50" stroke="#222" stroke-width="0.6"/>
<line x1="43.10" y1="290.69" x2="40.90" y2="290.69" stroke="#222" stroke-width="0.9"/>
<text x="36.4" y="294.19" font-size="8.3" text-anchor="end">10</text>
<text x="36.5" y="290.49" font-size="5.4">-1</text>
<line x1="43.10" y1="285.31" x2="41.80" y2="285.31" stroke="#222" stroke-width="0.6"/>
<line x1="43.10" y1="282.17" x2="41.80" y2="282.17" stroke="#222" stroke-width="0.6"/>
<line x1="43.10" y1="279.93" x2="41.80" y2="279.93" stroke="#222" stroke-width="0.6"/>
<line x1="43.10" y1="278.20" x2="41.80" y2="278.20" stroke="#222" stroke-width="0.6"/>
<line x1="43.10" y1="276.79" x2="41.80" y2="276.79" stroke="#222" stroke-width="0.6"/>
<line x1="43.10" y1="275.59" x2="41.80" y2="275.59" stroke="#222" stroke-width="0.6"/>
<line x1="43.10" y1="274.56" x2="41.80" y2="274.56" stroke="#222" stroke-width="0.6"/>
<line x1="43.10" y1="273.65" x2="41.80" y2="273.65" stroke="#222" stroke-width="0.6"/>
<line x1="43.10" y1="272.83" x2="40.90" y2="272.83" stroke="#222" stroke-width="0.9"/>
<text x="36.4" y="276.33" font-size="8.3" text-anchor="end">10</text>
<text x="36.5" y="272.63" font-size="5.4">0</text>
<line x1="43.10" y1="267.45" x2="41.80" y2="267.45" stroke="#222" stroke-width="0.6"/>
<line x1="43.10" y1="264.31" x2="41.80" y2="264.31" stroke="#222" stroke-width="0.6"/>
<line x1="43.10" y1="262.08" x2="41.80" y2="262.08" stroke="#222" stroke-width="0.6"/>
<line x1="43.10" y1="260.35" x2="41.80" y2="260.35" stroke="#222" stroke-width="0.6"/>
<line x1="43.10" y1="258.93" x2="41.80" y2="258.93" stroke="#222" stroke-width="0.6"/>
<line x1="43.10" y1="257.74" x2="41.80" y2="257.74" stroke="#222" stroke-width="0.6"/>
<line x1="43.10" y1="256.70" x2="41.80" y2="256.70" stroke="#222" stroke-width="0.6"/>
<line x1="43.10" y1="255.79" x2="41.80" y2="255.79" stroke="#222" stroke-width="0.6"/>
<line x1="43.10" y1="254.97" x2="40.90" y2="254.97" stroke="#222" stroke-width="0.9"/>
<text x="36.4" y="258.47" font-size="8.3" text-anchor="end">10</text>
<text x="36.5" y="254.77" font-size="5.4">1</text>
<line x1="43.10" y1="249.60" x2="41.80" y2="249.60" stroke="#222" stroke-width="0.6"/>
<line x1="43.10" y1="246.45" x2="41.80" y2="246.45" stroke="#222" stroke-width="0.6"/>
<line x1="43.10" y1="244.22" x2="41.80" y2="244.22" stroke="#222" stroke-width="0.6"/>
<line x1="43.10" y1="242.49" x2="41.80" y2="242.49" stroke="#222" stroke-width="0.6"/>
<line x1="43.10" y1="241.08" x2="41.80" y2="241.08" stroke="#222" stroke-width="0.6"/>
<line x1="43.10" y1="239.88" x2="41.80" y2="239.88" stroke="#222" stroke-width="0.6"/>
<line x1="43.10" y1="238.84" x2="41.80" y2="238.84" stroke="#222" stroke-width="0.6"/>
<line x1="43.10" y1="237.93" x2="41.80" y2="237.93" stroke="#222" stroke-width="0.6"/>
<line x1="43.10" y1="237.11" x2="40.90" y2="237.11" stroke="#222" stroke-width="0.9"/>
<text x="36.4" y="240.61" font-size="8.3" text-anchor="end">10</text>
<text x="36.5" y="236.91" font-size="5.4">2</text>
<line x1="43.10" y1="231.74" x2="41.80" y2="231.74" stroke="#222" stroke-width="0.6"/>
<line x1="43.10" y1="228.59" x2="41.80" y2="228.59" stroke="#222" stroke-width="0.6"/>
<line x1="43.10" y1="226.36" x2="41.80" y2="226.36" stroke="#222" stroke-width="0.6"/>
<line x1="43.10" y1="224.63" x2="41.80" y2="224.63" stroke="#222" stroke-width="0.6"/>
<line x1="43.10" y1="223.22" x2="41.80" y2="223.22" stroke="#222" stroke-width="0.6"/>
<line x1="43.10" y1="222.02" x2="41.80" y2="222.02" stroke="#222" stroke-width="0.6"/>
<line x1="43.10" y1="220.99" x2="41.80" y2="220.99" stroke="#222" stroke-width="0.6"/>
<line x1="43.10" y1="220.07" x2="41.80" y2="220.07" stroke="#222" stroke-width="0.6"/>
<line x1="43.10" y1="219.26" x2="40.90" y2="219.26" stroke="#222" stroke-width="0.9"/>
<text x="36.4" y="222.76" font-size="8.3" text-anchor="end">10</text>
<text x="36.5" y="219.06" font-size="5.4">3</text>
<line x1="43.10" y1="213.88" x2="41.80" y2="213.88" stroke="#222" stroke-width="0.6"/>
<line x1="43.10" y1="210.74" x2="41.80" y2="210.74" stroke="#222" stroke-width="0.6"/>
<line x1="43.10" y1="208.51" x2="41.80" y2="208.51" stroke="#222" stroke-width="0.6"/>
<line x1="43.10" y1="206.78" x2="41.80" y2="206.78" stroke="#222" stroke-width="0.6"/>
<line x1="43.10" y1="205.36" x2="41.80" y2="205.36" stroke="#222" stroke-width="0.6"/>
<line x1="43.10" y1="204.17" x2="41.80" y2="204.17" stroke="#222" stroke-width="0.6"/>
<line x1="43.10" y1="203.13" x2="41.80" y2="203.13" stroke="#222" stroke-width="0.6"/>
<line x1="43.10" y1="202.22" x2="41.80" y2="202.22" stroke="#222" stroke-width="0.6"/>
<line x1="43.10" y1="201.40" x2="40.90" y2="201.40" stroke="#222" stroke-width="0.9"/>
<text x="36.4" y="204.90" font-size="8.3" text-anchor="end">10</text>
<text x="36.5" y="201.20" font-size="5.4">4</text>
<line x1="206.30" y1="326.40" x2="208.50" y2="326.40" stroke="#222" stroke-width="0.9"/>
<text x="209.40" y="329.50" font-size="8.5" text-anchor="start" fill="#000">0.0</text>
<line x1="206.30" y1="313.90" x2="207.60" y2="313.90" stroke="#222" stroke-width="0.9"/>
<line x1="206.30" y1="301.40" x2="208.50" y2="301.40" stroke="#222" stroke-width="0.9"/>
<text x="209.40" y="304.50" font-size="8.5" text-anchor="start" fill="#000">0.3</text>
<line x1="206.30" y1="288.90" x2="207.60" y2="288.90" stroke="#222" stroke-width="0.9"/>
<line x1="206.30" y1="276.40" x2="208.50" y2="276.40" stroke="#222" stroke-width="0.9"/>
<text x="209.40" y="279.50" font-size="8.5" text-anchor="start" fill="#000">0.6</text>
<line x1="206.30" y1="263.90" x2="207.60" y2="263.90" stroke="#222" stroke-width="0.9"/>
<line x1="206.30" y1="251.40" x2="208.50" y2="251.40" stroke="#222" stroke-width="0.9"/>
<text x="209.40" y="254.50" font-size="8.5" text-anchor="start" fill="#000">0.9</text>
<line x1="206.30" y1="238.90" x2="207.60" y2="238.90" stroke="#222" stroke-width="0.9"/>
<line x1="206.30" y1="226.40" x2="208.50" y2="226.40" stroke="#222" stroke-width="0.9"/>
<text x="209.40" y="229.50" font-size="8.5" text-anchor="start" fill="#000">1.2</text>
<line x1="206.30" y1="213.90" x2="207.60" y2="213.90" stroke="#222" stroke-width="0.9"/>
<line x1="206.30" y1="201.40" x2="208.50" y2="201.40" stroke="#222" stroke-width="0.9"/>
<text x="209.40" y="204.50" font-size="8.5" text-anchor="start" fill="#000">1.5</text>
<line x1="43.10" y1="326.40" x2="43.10" y2="327.70" stroke="#222" stroke-width="0.9"/>
<line x1="61.23" y1="326.40" x2="61.23" y2="328.60" stroke="#222" stroke-width="0.9"/>
<text x="61.23" y="336.60" font-size="8.5" text-anchor="middle" fill="#000">-80</text>
<line x1="79.37" y1="326.40" x2="79.37" y2="327.70" stroke="#222" stroke-width="0.9"/>
<line x1="97.50" y1="326.40" x2="97.50" y2="328.60" stroke="#222" stroke-width="0.9"/>
<text x="97.50" y="336.60" font-size="8.5" text-anchor="middle" fill="#000">-40</text>
<line x1="115.63" y1="326.40" x2="115.63" y2="327.70" stroke="#222" stroke-width="0.9"/>
<line x1="133.77" y1="326.40" x2="133.77" y2="328.60" stroke="#222" stroke-width="0.9"/>
<text x="133.77" y="336.60" font-size="8.5" text-anchor="middle" fill="#000">0</text>
<line x1="151.90" y1="326.40" x2="151.90" y2="327.70" stroke="#222" stroke-width="0.9"/>
<line x1="170.03" y1="326.40" x2="170.03" y2="328.60" stroke="#222" stroke-width="0.9"/>
<text x="170.03" y="336.60" font-size="8.5" text-anchor="middle" fill="#000">40</text>
<line x1="188.17" y1="326.40" x2="188.17" y2="327.70" stroke="#222" stroke-width="0.9"/>
<line x1="206.30" y1="326.40" x2="206.30" y2="328.60" stroke="#222" stroke-width="0.9"/>
<text x="206.30" y="336.60" font-size="8.5" text-anchor="middle" fill="#000">80</text>
<text x="23.00" y="263.40" font-size="9.5" text-anchor="middle" fill="#000" transform="rotate(-90 23.0 263.4)">E' and E" (MPa)</text>
<text x="233.00" y="264.00" font-size="9.2" text-anchor="middle" fill="#000" transform="rotate(-90 233.0 264.0)">tan δ</text>
<text x="124.90" y="350.90" font-size="9.4" text-anchor="middle" fill="#000">Temperature (<tspan font-size="6" dy="-3.2">o</tspan><tspan dy="3.2">C)</tspan></text>
<text x="471.30" y="187.80" font-size="15" text-anchor="start" fill="#000" font-weight="bold">g</text>
<path d="M506.20 273.50 L508.60 230.00 L510.40 214.50 L520.50 316.30 L526.80 316.30 L534.70 214.20 L536.00 215.60 L544.00 215.60 L553.20 316.30 L560.40 316.30 L568.10 214.20 L569.40 215.60 L577.20 215.60 L586.40 316.30 L593.60 316.30 L601.30 214.20 L602.60 215.60 L610.40 215.60 L619.60 316.30 L626.80 316.30 L634.70 214.20 L636.20 215.60 L642.20 215.30" fill="none" stroke="#6ab5bc" stroke-width="0.9" stroke-linejoin="round"/>
<path d="M506.20 315.40 L508.40 315.40 L508.70 211.30 L522.10 211.30 L524.20 212.30 L525.70 213.40 L528.20 213.40 L529.90 212.60 L531.10 216.00 L532.20 223.72 L533.10 228.45 L533.90 233.77 L534.70 242.81 L535.60 254.98 L536.40 269.01 L537.30 283.38 L538.10 291.82 L538.90 298.59 L539.70 301.97 L540.60 304.50 L541.80 304.80 L541.90 211.30 L555.30 211.30 L557.40 212.30 L558.90 213.40 L561.40 213.40 L563.10 212.60 L564.30 216.00 L565.40 223.17 L566.30 227.20 L567.10 231.74 L567.90 239.44 L568.80 249.81 L569.60 261.76 L570.50 274.00 L571.30 281.20 L572.10 286.96 L572.90 289.84 L573.80 292.00 L575.00 292.30 L575.10 211.30 L588.50 211.30 L590.60 212.30 L592.10 213.40 L594.60 213.40 L596.30 212.60 L597.50 216.00 L598.60 222.84 L599.50 226.46 L600.30 230.53 L601.10 237.44 L602.00 246.74 L602.80 257.47 L603.70 268.45 L604.50 274.91 L605.30 280.08 L606.10 282.66 L607.00 284.60 L608.20 284.90 L608.30 211.30 L621.70 211.30 L623.80 212.30 L625.30 213.40 L627.80 213.40 L629.50 212.60 L630.70 216.00 L631.80 222.70 L632.70 226.14 L633.50 230.01 L634.30 236.58 L635.20 245.42 L636.00 255.61 L636.90 266.05 L637.70 272.19 L638.50 277.10 L639.30 279.56 L641.80 281.40" fill="none" stroke="#5a1870" stroke-width="1.3" stroke-linejoin="round"/>
<line x1="490.20" y1="201.10" x2="657.40" y2="201.10" stroke="#6a6a6a" stroke-width="1.7"/>
<line x1="490.80" y1="200.60" x2="490.80" y2="326.30" stroke="#8e5ca2" stroke-width="1.5"/>
<line x1="656.80" y1="200.60" x2="656.80" y2="326.30" stroke="#3a8f98" stroke-width="1.3"/>
<line x1="490.20" y1="325.80" x2="657.40" y2="325.80" stroke="#707070" stroke-width="1.7"/>
<line x1="490.80" y1="325.80" x2="489.50" y2="325.80" stroke="#5e2074" stroke-width="0.9"/>
<line x1="490.80" y1="315.41" x2="488.60" y2="315.41" stroke="#5e2074" stroke-width="0.9"/>
<text x="487.50" y="318.51" font-size="8.5" text-anchor="end" fill="#5e2074">0</text>
<line x1="490.80" y1="305.02" x2="489.50" y2="305.02" stroke="#5e2074" stroke-width="0.9"/>
<line x1="490.80" y1="294.62" x2="488.60" y2="294.62" stroke="#5e2074" stroke-width="0.9"/>
<text x="487.50" y="297.73" font-size="8.5" text-anchor="end" fill="#5e2074">2</text>
<line x1="490.80" y1="284.23" x2="489.50" y2="284.23" stroke="#5e2074" stroke-width="0.9"/>
<line x1="490.80" y1="273.84" x2="488.60" y2="273.84" stroke="#5e2074" stroke-width="0.9"/>
<text x="487.50" y="276.94" font-size="8.5" text-anchor="end" fill="#5e2074">4</text>
<line x1="490.80" y1="263.45" x2="489.50" y2="263.45" stroke="#5e2074" stroke-width="0.9"/>
<line x1="490.80" y1="253.06" x2="488.60" y2="253.06" stroke="#5e2074" stroke-width="0.9"/>
<text x="487.50" y="256.16" font-size="8.5" text-anchor="end" fill="#5e2074">6</text>
<line x1="490.80" y1="242.67" x2="489.50" y2="242.67" stroke="#5e2074" stroke-width="0.9"/>
<line x1="490.80" y1="232.27" x2="488.60" y2="232.27" stroke="#5e2074" stroke-width="0.9"/>
<text x="487.50" y="235.37" font-size="8.5" text-anchor="end" fill="#5e2074">8</text>
<line x1="490.80" y1="221.88" x2="489.50" y2="221.88" stroke="#5e2074" stroke-width="0.9"/>
<line x1="490.80" y1="211.49" x2="488.60" y2="211.49" stroke="#5e2074" stroke-width="0.9"/>
<text x="487.50" y="214.59" font-size="8.5" text-anchor="end" fill="#5e2074">10</text>
<line x1="490.80" y1="201.10" x2="489.50" y2="201.10" stroke="#5e2074" stroke-width="0.9"/>
<line x1="656.80" y1="325.80" x2="658.10" y2="325.80" stroke="#3a8f98" stroke-width="0.9"/>
<line x1="656.80" y1="316.21" x2="659.00" y2="316.21" stroke="#3a8f98" stroke-width="0.9"/>
<text x="660.00" y="319.31" font-size="8.5" text-anchor="start" fill="#3a8f98">-80</text>
<line x1="656.80" y1="306.62" x2="658.10" y2="306.62" stroke="#3a8f98" stroke-width="0.9"/>
<line x1="656.80" y1="297.02" x2="659.00" y2="297.02" stroke="#3a8f98" stroke-width="0.9"/>
<text x="660.00" y="300.12" font-size="8.5" text-anchor="start" fill="#3a8f98">-60</text>
<line x1="656.80" y1="287.43" x2="658.10" y2="287.43" stroke="#3a8f98" stroke-width="0.9"/>
<line x1="656.80" y1="277.84" x2="659.00" y2="277.84" stroke="#3a8f98" stroke-width="0.9"/>
<text x="660.00" y="280.94" font-size="8.5" text-anchor="start" fill="#3a8f98">-40</text>
<line x1="656.80" y1="268.25" x2="658.10" y2="268.25" stroke="#3a8f98" stroke-width="0.9"/>
<line x1="656.80" y1="258.65" x2="659.00" y2="258.65" stroke="#3a8f98" stroke-width="0.9"/>
<text x="660.00" y="261.75" font-size="8.5" text-anchor="start" fill="#3a8f98">-20</text>
<line x1="656.80" y1="249.06" x2="658.10" y2="249.06" stroke="#3a8f98" stroke-width="0.9"/>
<line x1="656.80" y1="239.47" x2="659.00" y2="239.47" stroke="#3a8f98" stroke-width="0.9"/>
<text x="660.00" y="242.57" font-size="8.5" text-anchor="start" fill="#3a8f98">0</text>
<line x1="656.80" y1="229.88" x2="658.10" y2="229.88" stroke="#3a8f98" stroke-width="0.9"/>
<line x1="656.80" y1="220.28" x2="659.00" y2="220.28" stroke="#3a8f98" stroke-width="0.9"/>
<text x="660.00" y="223.38" font-size="8.5" text-anchor="start" fill="#3a8f98">20</text>
<line x1="656.80" y1="210.69" x2="658.10" y2="210.69" stroke="#3a8f98" stroke-width="0.9"/>
<line x1="656.80" y1="201.10" x2="659.00" y2="201.10" stroke="#3a8f98" stroke-width="0.9"/>
<text x="660.00" y="204.20" font-size="8.5" text-anchor="start" fill="#3a8f98">40</text>
<line x1="505.89" y1="325.80" x2="505.89" y2="328.00" stroke="#333" stroke-width="0.9"/>
<text x="505.89" y="336.60" font-size="8.5" text-anchor="middle" fill="#000">0</text>
<line x1="536.07" y1="325.80" x2="536.07" y2="327.10" stroke="#333" stroke-width="0.9"/>
<line x1="566.25" y1="325.80" x2="566.25" y2="328.00" stroke="#333" stroke-width="0.9"/>
<text x="566.25" y="336.60" font-size="8.5" text-anchor="middle" fill="#000">10000</text>
<line x1="596.44" y1="325.80" x2="596.44" y2="327.10" stroke="#333" stroke-width="0.9"/>
<line x1="626.62" y1="325.80" x2="626.62" y2="328.00" stroke="#333" stroke-width="0.9"/>
<text x="626.62" y="336.60" font-size="8.5" text-anchor="middle" fill="#000">20000</text>
<line x1="656.80" y1="325.80" x2="656.80" y2="327.10" stroke="#333" stroke-width="0.9"/>
<text x="474.00" y="263.00" font-size="9.5" text-anchor="middle" fill="#5e2074" transform="rotate(-90 474.0 263.0)">Strain (%)</text>
<text x="682.00" y="263.50" font-size="9.5" text-anchor="middle" fill="#3a8f98" transform="rotate(-90 682.0 263.5)">Temperature (<tspan font-size="6.5">°</tspan>C)</text>
<text x="574.00" y="351.10" font-size="9.7" text-anchor="middle" fill="#000">Time (s)</text>
<text x="241.60" y="190.00" font-size="15" text-anchor="start" fill="#000" font-weight="bold">e</text>
<text x="243.00" y="285.00" font-size="15" text-anchor="start" fill="#000" font-weight="bold">f</text>
<g clip-path="url(#cpe)">
<rect x="270.60" y="200.40" width="156.20" height="69.60" fill="url(#ebg)"/>
<rect x="270.60" y="232.00" width="156.20" height="12.00" fill="#44423d" opacity="0.7"/>
<rect x="271.5" y="249" width="154.5" height="22" fill="url(#eside)"/>
<ellipse cx="348.7" cy="249.3" rx="77" ry="12.6" fill="url(#etop)"/>
<path d="M280 255 L312 251 L330 246 L334 249 L314 254 L282 258 Z" fill="#cfd2cf" opacity="0.9"/>
<path d="M318 200 L318 250 M365 200 L365 250" stroke="#858480" stroke-width="1" fill="none" opacity="0.6"/>
<rect x="271.50" y="263.20" width="154.50" height="1.60" fill="#9a9a98" opacity="0.8"/>
<circle cx="342.3" cy="225.6" r="21.2" fill="url(#ball)"/>
<path d="M340 206 Q336 225 340 244 L344 244 Q341 225 345 206 Z" fill="#c8c8cc" opacity="0.4"/>
<ellipse cx="342" cy="230" rx="5" ry="4" fill="#d0d0d4" opacity="0.5"/>
<path d="M336 246 L336 262 M347 246 L347 262" stroke="#d8d8d8" stroke-width="1.2" opacity="0.7"/>
</g>
<g clip-path="url(#cpf)">
<rect x="270.80" y="287.30" width="156.00" height="65.40" fill="url(#fbg)"/>
<rect x="270.80" y="322.50" width="156.00" height="1.50" fill="#a8a295"/>
<rect x="270.80" y="324.00" width="156.00" height="10.00" fill="#6c5f50" opacity="0.8"/>
<path d="M271 352.7 L271 338 Q272 327 300 326 L400 326 Q426 327 427 338 L427 352.7 Z" fill="url(#fside)"/>
<path d="M274 340 Q276 328 300 327.5 L400 327.5 Q424 328 425 340 Q424 344 400 344.5 L300 344.5 Q276 344 274 340 Z" fill="url(#ftop)"/>
<rect x="289.40" y="331.00" width="116.50" height="8.00" fill="#a7afa8"/>
<rect x="289.40" y="337.60" width="116.50" height="1.40" fill="#cfdad4"/>
<ellipse cx="346" cy="334" rx="24" ry="3.2" fill="#9e9062" opacity="0.85"/>
<path d="M322.5 287 L322.5 332 M369.8 287 L369.8 332" stroke="#aaa59c" stroke-width="1" fill="none" opacity="0.6"/>
<circle cx="345.9" cy="310.9" r="21" fill="url(#ballf)"/>
<path d="M343 292 Q336 310 342 328 L348 328 Q343 310 350 292 Z" fill="#d4d4d8" opacity="0.35"/>
<rect x="271.00" y="338.00" width="2.20" height="3.00" fill="#111"/>
<rect x="271.00" y="345.00" width="2.20" height="3.00" fill="#111"/>
<rect x="424.60" y="338.00" width="2.20" height="3.00" fill="#111"/>
<rect x="424.60" y="345.00" width="2.20" height="3.00" fill="#111"/>
<rect x="325.00" y="317.00" width="42.00" height="1.00" fill="#777" opacity="0.7"/>
</g>
<text x="13.80" y="379.00" font-size="15" text-anchor="start" fill="#000" font-weight="bold">h</text>
<g fill="#e4606f"><rect x="43.20" y="384.10" width="12.50" height="1.80"/><rect x="60.35" y="384.10" width="11.60" height="1.80"/><rect x="76.60" y="384.10" width="11.60" height="1.80"/><rect x="92.85" y="384.10" width="11.60" height="1.80"/><rect x="109.10" y="384.10" width="11.60" height="1.80"/><rect x="125.35" y="384.10" width="11.60" height="1.80"/><rect x="141.60" y="384.10" width="11.60" height="1.80"/><rect x="157.85" y="384.10" width="11.60" height="1.80"/><rect x="174.10" y="384.10" width="11.60" height="1.80"/><rect x="190.35" y="384.10" width="11.60" height="1.80"/><rect x="206.60" y="384.10" width="11.60" height="1.80"/><rect x="222.85" y="384.10" width="11.60" height="1.80"/><rect x="239.10" y="384.10" width="11.60" height="1.80"/><rect x="255.35" y="384.10" width="11.60" height="1.80"/><rect x="271.60" y="384.10" width="11.60" height="1.80"/><rect x="287.85" y="384.10" width="11.60" height="1.80"/><rect x="304.10" y="384.10" width="11.60" height="1.80"/><rect x="320.35" y="384.10" width="11.60" height="1.80"/><rect x="336.60" y="384.10" width="11.60" height="1.80"/><rect x="352.85" y="384.10" width="11.60" height="1.80"/><rect x="369.10" y="384.10" width="11.60" height="1.80"/><rect x="385.35" y="384.10" width="11.60" height="1.80"/><rect x="401.60" y="384.10" width="11.60" height="1.80"/><rect x="417.85" y="384.10" width="11.60" height="1.80"/><rect x="434.10" y="384.10" width="11.60" height="1.80"/><rect x="450.35" y="384.10" width="11.60" height="1.80"/><rect x="466.60" y="384.10" width="11.60" height="1.80"/><rect x="482.85" y="384.10" width="11.60" height="1.80"/><rect x="499.10" y="384.10" width="11.60" height="1.80"/><rect x="515.35" y="384.10" width="11.60" height="1.80"/><rect x="531.60" y="384.10" width="11.60" height="1.80"/><rect x="547.85" y="384.10" width="11.60" height="1.80"/><rect x="564.10" y="384.10" width="11.60" height="1.80"/><rect x="580.35" y="384.10" width="11.60" height="1.80"/><rect x="596.60" y="384.10" width="11.60" height="1.80"/><rect x="612.85" y="384.10" width="11.60" height="1.80"/><rect x="629.10" y="384.10" width="11.60" height="1.80"/><rect x="645.35" y="384.10" width="10.35" height="1.80"/><rect x="43.20" y="602.10" width="12.50" height="1.80"/><rect x="60.35" y="602.10" width="11.60" height="1.80"/><rect x="76.60" y="602.10" width="11.60" height="1.80"/><rect x="92.85" y="602.10" width="11.60" height="1.80"/><rect x="109.10" y="602.10" width="11.60" height="1.80"/><rect x="125.35" y="602.10" width="11.60" height="1.80"/><rect x="141.60" y="602.10" width="11.60" height="1.80"/><rect x="157.85" y="602.10" width="11.60" height="1.80"/><rect x="174.10" y="602.10" width="11.60" height="1.80"/><rect x="190.35" y="602.10" width="11.60" height="1.80"/><rect x="206.60" y="602.10" width="11.60" height="1.80"/><rect x="222.85" y="602.10" width="11.60" height="1.80"/><rect x="239.10" y="602.10" width="11.60" height="1.80"/><rect x="255.35" y="602.10" width="11.60" height="1.80"/><rect x="271.60" y="602.10" width="11.60" height="1.80"/><rect x="287.85" y="602.10" width="11.60" height="1.80"/><rect x="304.10" y="602.10" width="11.60" height="1.80"/><rect x="320.35" y="602.10" width="11.60" height="1.80"/><rect x="336.60" y="602.10" width="11.60" height="1.80"/><rect x="352.85" y="602.10" width="11.60" height="1.80"/><rect x="369.10" y="602.10" width="11.60" height="1.80"/><rect x="385.35" y="602.10" width="11.60" height="1.80"/><rect x="401.60" y="602.10" width="11.60" height="1.80"/><rect x="417.85" y="602.10" width="11.60" height="1.80"/><rect x="434.10" y="602.10" width="11.60" height="1.80"/><rect x="450.35" y="602.10" width="11.60" height="1.80"/><rect x="466.60" y="602.10" width="11.60" height="1.80"/><rect x="482.85" y="602.10" width="11.60" height="1.80"/><rect x="499.10" y="602.10" width="11.60" height="1.80"/><rect x="515.35" y="602.10" width="11.60" height="1.80"/><rect x="531.60" y="602.10" width="11.60" height="1.80"/><rect x="547.85" y="602.10" width="11.60" height="1.80"/><rect x="564.10" y="602.10" width="11.60" height="1.80"/><rect x="580.35" y="602.10" width="11.60" height="1.80"/><rect x="596.60" y="602.10" width="11.60" height="1.80"/><rect x="612.85" y="602.10" width="11.60" height="1.80"/><rect x="629.10" y="602.10" width="11.60" height="1.80"/><rect x="645.35" y="602.10" width="10.35" height="1.80"/><rect x="43.20" y="384.10" width="1.80" height="4.20"/><rect x="43.20" y="392.95" width="1.80" height="11.60"/><rect x="43.20" y="409.20" width="1.80" height="11.60"/><rect x="43.20" y="425.45" width="1.80" height="11.60"/><rect x="43.20" y="441.70" width="1.80" height="11.60"/><rect x="43.20" y="457.95" width="1.80" height="11.60"/><rect x="43.20" y="474.20" width="1.80" height="11.60"/><rect x="43.20" y="490.45" width="1.80" height="11.60"/><rect x="43.20" y="506.70" width="1.80" height="11.60"/><rect x="43.20" y="522.95" width="1.80" height="11.60"/><rect x="43.20" y="539.20" width="1.80" height="11.60"/><rect x="43.20" y="555.45" width="1.80" height="11.60"/><rect x="43.20" y="571.70" width="1.80" height="11.60"/><rect x="43.20" y="587.95" width="1.80" height="11.60"/><rect x="653.90" y="384.10" width="1.80" height="2.30"/><rect x="653.90" y="391.05" width="1.80" height="11.60"/><rect x="653.90" y="407.30" width="1.80" height="11.60"/><rect x="653.90" y="423.55" width="1.80" height="11.60"/><rect x="653.90" y="439.80" width="1.80" height="11.60"/><rect x="653.90" y="456.05" width="1.80" height="11.60"/><rect x="653.90" y="472.30" width="1.80" height="11.60"/><rect x="653.90" y="488.55" width="1.80" height="11.60"/><rect x="653.90" y="504.80" width="1.80" height="11.60"/><rect x="653.90" y="521.05" width="1.80" height="11.60"/><rect x="653.90" y="537.30" width="1.80" height="11.60"/><rect x="653.90" y="553.55" width="1.80" height="11.60"/><rect x="653.90" y="569.80" width="1.80" height="11.60"/><rect x="653.90" y="586.05" width="1.80" height="11.60"/><rect x="653.90" y="602.30" width="1.80" height="1.60"/></g>
<g clip-path="url(#cph1)"><g transform="translate(56.70 391.70)">
<rect x="0" y="0" width="142.10" height="83.20" fill="url(#hbg)"/>
<rect x="0" y="0" width="142.10" height="83.20" fill="url(#hbgv)"/>
<path d="M0.00 74.00 L142.00 65.50 L142.00 95.00 L0.00 95.00 Z " fill="url(#hlow)"/>
<rect x="0" y="56" width="142" height="30" fill="url(#hlowv)"/>
<path d="M0.00 70.00 C40.00 66.50 90.00 61.50 126.00 60.00 C127.00 62.00 125.00 63.50 121.00 64.00 C100.00 66.50 60.00 72.50 30.00 76.00 C15.00 77.50 5.00 78.50 0.00 79.50 Z " fill="#0c55aa"/>
<path d="M0.00 43.80 C20.00 42.00 50.00 40.00 83.00 38.50 C92.00 37.80 99.00 37.00 103.50 35.60 C108.00 34.40 114.00 34.00 119.00 34.50 C125.00 35.20 131.00 39.00 134.50 44.00 C137.00 48.50 137.00 54.00 134.00 58.50 C131.00 62.00 126.00 63.80 121.00 63.80 C112.00 63.60 100.00 63.20 83.00 64.20 C60.00 66.00 30.00 68.50 0.00 71.30 Z " fill="url(#hfing)"/>
<path d="M8.00 52.00 C30.00 48.00 55.00 49.00 80.00 46.00 M20.00 60.00 C45.00 57.00 70.00 56.00 100.00 52.00 M100.00 42.00 C110.00 40.00 120.00 44.00 128.00 41.00 M104.00 50.00 C112.00 47.00 122.00 52.00 132.00 48.00 M60.00 44.00 C70.00 46.00 80.00 42.00 92.00 44.00 " fill="none" stroke="#4b9cf0" stroke-width="1.8" opacity="0.45" filter="url(#blur1)"/>
<path d="M15.00 64.00 C40.00 61.00 70.00 60.00 110.00 56.00 M112.00 38.50 C116.00 44.00 114.00 50.00 118.00 56.00 " fill="none" stroke="#0f52a8" stroke-width="1.6" opacity="0.5" filter="url(#blur1)"/>
<path d="M17 41 L39 39 L40 46.5 L18 48.5 Z" fill="#c4ccd0" opacity="0.92"/>
<path d="M38.5 30 C39 27 50 26 60 27.5 C62 32 62 42 60.5 46 C55 49 45 50 40.5 48 C37.5 42 37.5 34 38.5 30 Z" fill="#dfe6e2" opacity="0.93"/>
<path d="M40 35 C45 32 55 31 60 32" stroke="#b8c4c0" stroke-width="0.8" fill="none"/>
</g></g>
<text x="66.70" y="408.00" font-size="9.0" text-anchor="start" fill="#fff">Temporary shape</text>
<text x="194.80" y="471.50" font-size="9.3" fill="#fff" text-anchor="end">-70<tspan font-size="5.4" dy="-2.6">o</tspan><tspan dy="2.6">C</tspan></text>
<g clip-path="url(#cph2)"><g transform="translate(278.20 391.70)">
<rect x="0" y="0" width="141.40" height="83.20" fill="url(#hbg)"/>
<rect x="0" y="0" width="141.40" height="83.20" fill="url(#hbgv)"/>
<path d="M0.00 74.00 L142.00 65.50 L142.00 95.00 L0.00 95.00 Z " fill="url(#hlow)"/>
<rect x="0" y="56" width="142" height="30" fill="url(#hlowv)"/>
<path d="M0.00 70.00 C40.00 66.50 90.00 61.50 126.00 60.00 C127.00 62.00 125.00 63.50 121.00 64.00 C100.00 66.50 60.00 72.50 30.00 76.00 C15.00 77.50 5.00 78.50 0.00 79.50 Z " fill="#0c55aa"/>
<path d="M0.00 43.80 C20.00 42.00 50.00 40.00 83.00 38.50 C92.00 37.80 99.00 37.00 103.50 35.60 C108.00 34.40 114.00 34.00 119.00 34.50 C125.00 35.20 131.00 39.00 134.50 44.00 C137.00 48.50 137.00 54.00 134.00 58.50 C131.00 62.00 126.00 63.80 121.00 63.80 C112.00 63.60 100.00 63.20 83.00 64.20 C60.00 66.00 30.00 68.50 0.00 71.30 Z " fill="url(#hfing)"/>
<path d="M8.00 52.00 C30.00 48.00 55.00 49.00 80.00 46.00 M20.00 60.00 C45.00 57.00 70.00 56.00 100.00 52.00 M100.00 42.00 C110.00 40.00 120.00 44.00 128.00 41.00 M104.00 50.00 C112.00 47.00 122.00 52.00 132.00 48.00 M60.00 44.00 C70.00 46.00 80.00 42.00 92.00 44.00 " fill="none" stroke="#4b9cf0" stroke-width="1.8" opacity="0.45" filter="url(#blur1)"/>
<path d="M15.00 64.00 C40.00 61.00 70.00 60.00 110.00 56.00 M112.00 38.50 C116.00 44.00 114.00 50.00 118.00 56.00 " fill="none" stroke="#0f52a8" stroke-width="1.6" opacity="0.5" filter="url(#blur1)"/>
<path d="M18 41 L38 39.5 L39 47 L19 48.5 Z" fill="#c4ccd0" opacity="0.92"/>
<path d="M37 27 C40 24 58 23 62 26 C64 32 64 41 61 44.5 C55 48 45 49.5 40 48 C36 42 35 32 37 27 Z" fill="#dde4dc" opacity="0.93"/>
<path d="M38 32 C45 29 55 28.5 62 30" stroke="#b8c4c0" stroke-width="0.8" fill="none"/>
</g></g>
<text x="415.60" y="471.50" font-size="9.3" fill="#fff" text-anchor="end">25<tspan font-size="5.4" dy="-2.6">o</tspan><tspan dy="2.6">C</tspan></text>
<g clip-path="url(#cph3)"><g transform="translate(499.10 391.70)">
<rect x="0" y="0" width="141.70" height="83.20" fill="url(#hbg)"/>
<rect x="0" y="0" width="141.70" height="83.20" fill="url(#hbgv)"/>
<path d="M0.00 73.20 L142.00 65.00 L142.00 94.50 L0.00 94.20 Z " fill="url(#hlow)"/>
<rect x="0" y="56" width="142" height="30" fill="url(#hlowv)"/>
<path d="M0.00 69.20 C40.00 65.78 90.00 60.89 126.00 59.47 C127.00 61.47 125.00 62.96 121.00 63.46 C100.00 65.91 60.00 71.83 30.00 75.26 C15.00 76.73 5.00 77.71 0.00 78.70 Z " fill="#0c55aa"/>
<path d="M0.00 43.00 C20.00 41.24 50.00 39.31 83.00 37.88 C92.00 37.19 99.00 36.41 103.50 35.02 C108.00 33.83 114.00 33.44 119.00 33.95 C125.00 34.66 131.00 38.48 134.50 43.48 C137.00 47.99 137.00 53.49 134.00 57.98 C131.00 61.48 126.00 63.27 121.00 63.26 C112.00 63.04 100.00 62.61 83.00 63.58 C60.00 65.33 30.00 67.76 0.00 70.50 Z " fill="url(#hfing)"/>
<path d="M8.00 51.22 C30.00 47.26 55.00 48.32 80.00 45.37 M20.00 59.24 C45.00 56.30 70.00 55.35 100.00 51.41 M100.00 41.41 C110.00 39.43 120.00 43.45 128.00 40.47 M104.00 49.42 C112.00 46.44 122.00 51.46 132.00 47.48 M60.00 43.33 C70.00 45.35 80.00 41.37 92.00 43.39 " fill="none" stroke="#4b9cf0" stroke-width="1.8" opacity="0.45" filter="url(#blur1)"/>
<path d="M15.00 63.23 C40.00 60.28 70.00 59.35 110.00 55.43 M112.00 37.94 C116.00 43.45 114.00 49.44 118.00 55.45 " fill="none" stroke="#0f52a8" stroke-width="1.6" opacity="0.5" filter="url(#blur1)"/>
<path d="M19 41.5 L42 39 L50 42 L44 47.5 L20 46 Z" fill="#c4ccd0" opacity="0.9"/>
<path d="M42.5 44 C40 35 40.5 24 49 19.5 C57 15.5 65 19 66 28 C67 36 64.5 43.5 57.5 46 C52 47.5 46.5 47 43 45.5 Z" fill="#d0d8d4" opacity="0.55"/>
<path d="M42.5 44 C40 35 40.5 24 49 19.5 C57 15.5 65 19 66 28 C67 36 64.5 43.5 57.5 46 C52 47.5 46.5 47 43 45.5" fill="none" stroke="#d8ded6" stroke-width="2.6" opacity="0.95"/>
<path d="M46 38 C45 31 47 27 53 25.5 C58 25 61 28 61.5 33 C61.5 37 59 39.5 55 40 C50 40.5 47 40 46 38 Z" fill="#6fb2d2" opacity="0.85"/>
</g></g>
<text x="636.80" y="471.50" font-size="9.3" fill="#fff" text-anchor="end">25<tspan font-size="5.4" dy="-2.6">o</tspan><tspan dy="2.6">C</tspan></text>
<g clip-path="url(#cph4)"><g transform="translate(56.70 511.00)">
<rect x="0" y="0" width="142.10" height="84.40" fill="url(#hbg)"/>
<rect x="0" y="0" width="142.10" height="84.40" fill="url(#hbgv)"/>
<path d="M0.00 66.30 L142.00 61.30 L142.00 90.80 L0.00 87.30 Z " fill="url(#hlow)"/>
<rect x="0" y="56" width="142" height="30" fill="url(#hlowv)"/>
<path d="M0.00 62.30 C40.00 59.79 90.00 56.02 126.00 55.41 C127.00 57.43 125.00 58.88 121.00 59.28 C100.00 61.26 60.00 66.28 30.00 69.04 C15.00 70.17 5.00 70.92 0.00 71.80 Z " fill="#0c55aa"/>
<path d="M0.00 36.10 C20.00 34.79 50.00 33.53 83.00 32.85 C92.00 32.37 99.00 31.74 103.50 30.45 C108.00 29.36 114.00 29.11 119.00 29.73 C125.00 30.58 131.00 34.53 134.50 39.62 C137.00 44.18 137.00 49.68 134.00 54.10 C131.00 57.53 126.00 59.21 121.00 59.08 C112.00 58.66 100.00 57.96 83.00 58.55 C60.00 59.78 30.00 61.54 0.00 63.60 Z " fill="url(#hfing)"/>
<path d="M8.00 44.50 C30.00 41.04 55.00 42.66 80.00 40.27 M20.00 52.79 C45.00 50.41 70.00 50.03 100.00 46.76 M100.00 36.76 C110.00 35.01 120.00 39.26 128.00 36.45 M104.00 44.86 C112.00 42.06 122.00 47.31 132.00 43.55 M60.00 37.78 C70.00 40.03 80.00 36.27 92.00 38.57 " fill="none" stroke="#4b9cf0" stroke-width="1.8" opacity="0.45" filter="url(#blur1)"/>
<path d="M15.00 56.67 C40.00 54.29 70.00 54.03 110.00 51.01 M112.00 33.56 C116.00 39.16 114.00 45.11 118.00 51.21 " fill="none" stroke="#0f52a8" stroke-width="1.6" opacity="0.5" filter="url(#blur1)"/>
<path d="M18.4 33 C40 32.5 70 31.5 100 29 C110 28 120 25 129.5 21 L130.5 23.5 C122 28 112 31.5 100 33.2 C75 36 45 38.5 18.4 40.3 Z" fill="#d2dadb" opacity="0.78"/>
<path d="M18.4 40.3 C45 38.5 75 36 100 33.2 C112 31.5 122 28 130.5 23.5" stroke="#d8cfa8" stroke-width="0.7" fill="none"/>
</g></g>
<text x="66.70" y="527.30" font-size="9.0" text-anchor="start" fill="#fff">Original shape</text>
<text x="194.80" y="592.00" font-size="9.3" fill="#fff" text-anchor="end">25<tspan font-size="5.4" dy="-2.6">o</tspan><tspan dy="2.6">C</tspan></text>
<g clip-path="url(#cph5)"><g transform="translate(278.20 511.00)">
<rect x="0" y="0" width="141.40" height="84.40" fill="url(#hbg)"/>
<rect x="0" y="0" width="141.40" height="84.40" fill="url(#hbgv)"/>
<path d="M0.00 69.80 L142.00 65.10 L142.00 94.60 L0.00 90.80 Z " fill="url(#hlow)"/>
<rect x="0" y="56" width="142" height="30" fill="url(#hlowv)"/>
<path d="M0.00 65.80 C40.00 63.37 90.00 59.71 126.00 59.17 C127.00 61.20 125.00 62.65 121.00 63.04 C100.00 64.98 60.00 69.91 30.00 72.60 C15.00 73.70 5.00 74.43 0.00 75.30 Z " fill="#0c55aa"/>
<path d="M0.00 39.60 C20.00 38.34 50.00 37.14 83.00 36.52 C92.00 36.06 99.00 35.45 103.50 34.17 C108.00 33.09 114.00 32.85 119.00 33.48 C125.00 34.35 131.00 38.31 134.50 43.40 C137.00 47.97 137.00 53.47 134.00 57.89 C131.00 61.31 126.00 62.97 121.00 62.84 C112.00 62.40 100.00 61.68 83.00 62.22 C60.00 63.41 30.00 65.10 0.00 67.10 Z " fill="url(#hfing)"/>
<path d="M8.00 48.01 C30.00 44.60 55.00 46.27 80.00 43.94 M20.00 56.34 C45.00 54.00 70.00 53.67 100.00 50.48 M100.00 40.48 C110.00 38.74 120.00 43.01 128.00 40.23 M104.00 48.58 C112.00 45.80 122.00 51.06 132.00 47.33 M60.00 41.41 C70.00 43.67 80.00 39.94 92.00 42.26 " fill="none" stroke="#4b9cf0" stroke-width="1.8" opacity="0.45" filter="url(#blur1)"/>
<path d="M15.00 60.20 C40.00 57.87 70.00 57.67 110.00 54.74 M112.00 37.30 C116.00 42.90 114.00 48.85 118.00 54.96 " fill="none" stroke="#0f52a8" stroke-width="1.6" opacity="0.5" filter="url(#blur1)"/>
<path d="M17.9 36.5 L66 35.5 C78 32 87 26 90 18 C91.5 12 88 7 80 3.8 L78.5 5 C84 8.5 86 12.5 85 18 C82.5 25 76 30 67.7 35.5 L67.7 41.4 C80 37 92 30 94 22 C96 14 92 8 84 4.2 L80.5 3.6 C88 7.5 91.5 13 90 19 C88 26 80 31 68 34 Z" fill="#cdd3cf" opacity="0.0"/>
<path d="M17.9 36.8 C35 36.5 52 36 66 35.2 C76 32 86 26 89.5 18 C91.5 12 88 7 80 3.5 L82 3.6 C90 6.5 94.5 12 94 19 C93 28 82 36 68 41.4 C52 42 35 42.3 17.9 42.6 Z" fill="#d2dadb" opacity="0.8"/>
<path d="M17.9 42.6 C35 42.3 52 42 68 41.4 C82 36 93 28 94 19" stroke="#d8cfa8" stroke-width="0.7" fill="none"/>
</g></g>
<text x="415.60" y="592.00" font-size="9.3" fill="#fff" text-anchor="end">25<tspan font-size="5.4" dy="-2.6">o</tspan><tspan dy="2.6">C</tspan></text>
<g clip-path="url(#cph6)"><g transform="translate(499.10 511.00)">
<rect x="0" y="0" width="141.70" height="84.40" fill="url(#hbg)"/>
<rect x="0" y="0" width="141.70" height="84.40" fill="url(#hbgv)"/>
<path d="M0.00 71.80 L142.00 65.90 L142.00 95.40 L0.00 92.80 Z " fill="url(#hlow)"/>
<rect x="0" y="56" width="142" height="30" fill="url(#hlowv)"/>
<path d="M0.00 67.80 C40.00 65.03 90.00 60.95 126.00 60.11 C127.00 62.13 125.00 63.59 121.00 64.02 C100.00 66.13 60.00 71.40 30.00 74.35 C15.00 75.57 5.00 76.39 0.00 77.30 Z " fill="#0c55aa"/>
<path d="M0.00 41.60 C20.00 40.17 50.00 38.72 83.00 37.82 C92.00 37.28 99.00 36.61 103.50 35.30 C108.00 34.18 114.00 33.89 119.00 34.48 C125.00 35.29 131.00 39.20 134.50 44.26 C137.00 48.81 137.00 54.31 134.00 58.75 C131.00 62.20 126.00 63.91 121.00 63.82 C112.00 63.45 100.00 62.83 83.00 63.52 C60.00 64.90 30.00 66.85 0.00 69.10 Z " fill="url(#hfing)"/>
<path d="M8.00 49.95 C30.00 46.35 55.00 47.81 80.00 45.26 M20.00 58.17 C45.00 55.62 70.00 55.08 100.00 51.63 M100.00 41.63 C110.00 39.81 120.00 44.00 128.00 41.14 M104.00 49.70 C112.00 46.85 122.00 52.03 132.00 48.22 M60.00 42.90 C70.00 45.08 80.00 41.26 92.00 43.48 " fill="none" stroke="#4b9cf0" stroke-width="1.8" opacity="0.45" filter="url(#blur1)"/>
<path d="M15.00 62.07 C40.00 59.53 70.00 59.08 110.00 55.81 M112.00 38.35 C116.00 43.92 114.00 49.89 118.00 55.96 " fill="none" stroke="#0f52a8" stroke-width="1.6" opacity="0.5" filter="url(#blur1)"/>
<path d="M15.9 45.6 L62 42.5 C74 40.5 80 31 79.4 25.5 C78.5 18.5 72.5 15.5 66 16 C58 16.5 51 20 47.6 24.5 L50.5 25.5 C54 21.8 59 19.8 65 19.8 C71 20 75 23 75 27 C74.5 33 70 37 62 38.5 L15.9 38.2 Z" fill="#d2dadb" opacity="0.8"/>
<path d="M15.9 45.6 L62 42.5 C74 40.5 80 31 79.4 25.5" stroke="#d8cfa8" stroke-width="0.7" fill="none"/>
</g></g>
<text x="636.80" y="592.00" font-size="9.3" fill="#fff" text-anchor="end">25<tspan font-size="5.4" dy="-2.6">o</tspan><tspan dy="2.6">C</tspan></text>
<path d="M217.2 428.0 L250.2 428.0 L250.2 423.5 L259.0 432.6 L250.2 441.70000000000005 L250.2 437.20000000000005 L217.2 437.20000000000005 Z" fill="url(#garr_r)"/>
<text x="234.75" y="427.20" font-size="8.6" text-anchor="middle" fill="#222">4s</text>
<path d="M438.3 428.0 L471.3 428.0 L471.3 423.5 L480.1 432.6 L471.3 441.70000000000005 L471.3 437.20000000000005 L438.3 437.20000000000005 Z" fill="url(#garr_r)"/>
<text x="460.20" y="427.10" font-size="8.6" text-anchor="middle" fill="#222">6s</text>
<path d="M258.9 546.8 L226.5 546.8 L226.5 542.3 L217.7 551.4 L226.5 560.5 L226.5 556.0 L258.9 556.0 Z" fill="url(#garr_l)"/>
<text x="242.00" y="545.80" font-size="8.6" text-anchor="middle" fill="#222">25s</text>
<path d="M480.1 548.3 L447.40000000000003 548.3 L447.40000000000003 543.8 L438.6 552.9 L447.40000000000003 562.0 L447.40000000000003 557.5 L480.1 557.5 Z" fill="url(#garr_l)"/>
<text x="462.80" y="547.10" font-size="8.6" text-anchor="middle" fill="#222">15s</text>
<path d="M565.0 478.4 L565.0 498.8 L560.9 498.8 L569.6 507.8 L578.3000000000001 498.8 L574.2 498.8 L574.2 478.4 Z" fill="url(#garr_d)"/>
<text x="582.80" y="494.00" font-size="8.6" text-anchor="middle" fill="#222">9s</text>
<path d="M104.10000000000001 507.7 L104.10000000000001 487.3 L100.0 487.3 L108.7 478.3 L117.4 487.3 L113.3 487.3 L113.3 507.7 Z" fill="url(#garr_u)"/>
<path d="M133.9 479.9 L133.9 500.0 L129.8 500.0 L138.5 509.0 L147.2 500.0 L143.1 500.0 L143.1 479.9 Z" fill="url(#garr_d)"/>
<text x="82.80" y="497.00" font-size="9.2" text-anchor="middle" fill="#333">Program</text>
<text x="169.10" y="496.30" font-size="9.2" text-anchor="middle" fill="#333">Recovered</text>
</svg></body></html>
